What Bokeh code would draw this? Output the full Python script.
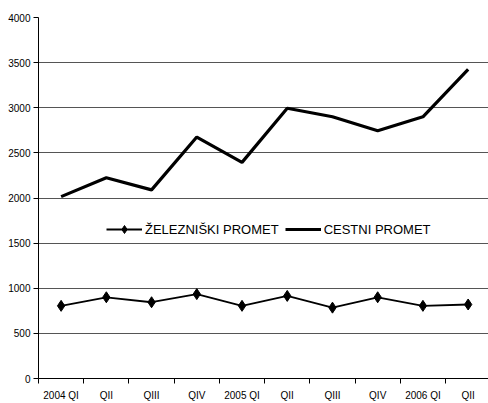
from bokeh.plotting import figure
from bokeh.models import FixedTicker, Legend, LegendItem, Range1d
from bokeh.embed import file_html
from bokeh.resources import INLINE

categories = ["2004 QI", "QII", "QIII", "QIV", "2005 QI", "QII", "QIII", "QIV", "2006 QI", "QII"]
zeleznicki = [805, 900, 845, 935, 805, 915, 785, 900, 805, 820]
cestni = [2015, 2225, 2090, 2675, 2395, 2995, 2900, 2745, 2900, 3425]
y_ticks = [0, 500, 1000, 1500, 2000, 2500, 3000, 3500, 4000]

FONT = "Liberation Sans"

xs = [i + 0.5 for i in range(len(categories))]

p = figure(width=488, height=403, output_backend="svg", toolbar_location=None,
           x_range=Range1d(0, 9.95), y_range=Range1d(0, 4000),
           min_border_left=38, min_border_right=0, min_border_top=17, min_border_bottom=23)
p.outline_line_color = None
p.background_fill_color = "white"
p.border_fill_color = "white"

# x axis
p.xaxis.ticker = FixedTicker(ticks=xs, minor_ticks=list(range(0, 11)))
p.xaxis.major_label_overrides = {x: c for x, c in zip(xs, categories)}
p.xaxis.major_tick_line_color = None
p.xaxis.minor_tick_line_color = "black"
p.xaxis.minor_tick_out = 5
p.xaxis.minor_tick_in = 0
p.xaxis.axis_line_color = "black"
p.xaxis.major_label_text_font = FONT
p.xaxis.major_label_text_font_size = "10px"
p.xaxis.major_label_text_color = "black"
p.xaxis.major_label_standoff = 5

# y axis
p.yaxis.ticker = FixedTicker(ticks=y_ticks)
p.yaxis.major_tick_out = 5
p.yaxis.major_tick_in = 0
p.yaxis.minor_tick_line_color = None
p.yaxis.axis_line_color = "black"
p.yaxis.major_label_text_font = FONT
p.yaxis.major_label_text_font_size = "10px"
p.yaxis.major_label_text_color = "black"
p.yaxis.major_label_standoff = 3

p.xgrid.grid_line_color = None
p.ygrid.grid_line_color = "#555555"
p.ygrid.grid_line_width = 1

r_line = p.line(xs, zeleznicki, line_color="black", line_width=1.8)
r_pts = p.scatter(xs, zeleznicki, marker="diamond", size=11, fill_color="black", line_color="black")
r_c = p.line(xs, cestni, line_color="black", line_width=3.2)

legend = Legend(items=[LegendItem(label="ŽELEZNIŠKI PROMET", renderers=[r_line, r_pts]),
                       LegendItem(label="CESTNI PROMET", renderers=[r_c])],
                orientation="horizontal", location=(68, 139), margin=0,
                padding=6, spacing=6, label_standoff=3, glyph_width=36, glyph_height=20,
                label_text_font=FONT, label_text_font_size="13px", label_text_color="black",
                border_line_color=None, background_fill_color="white", background_fill_alpha=1.0)
p.add_layout(legend, "center")

open("out.html", "w").write(file_html(p, INLINE))
